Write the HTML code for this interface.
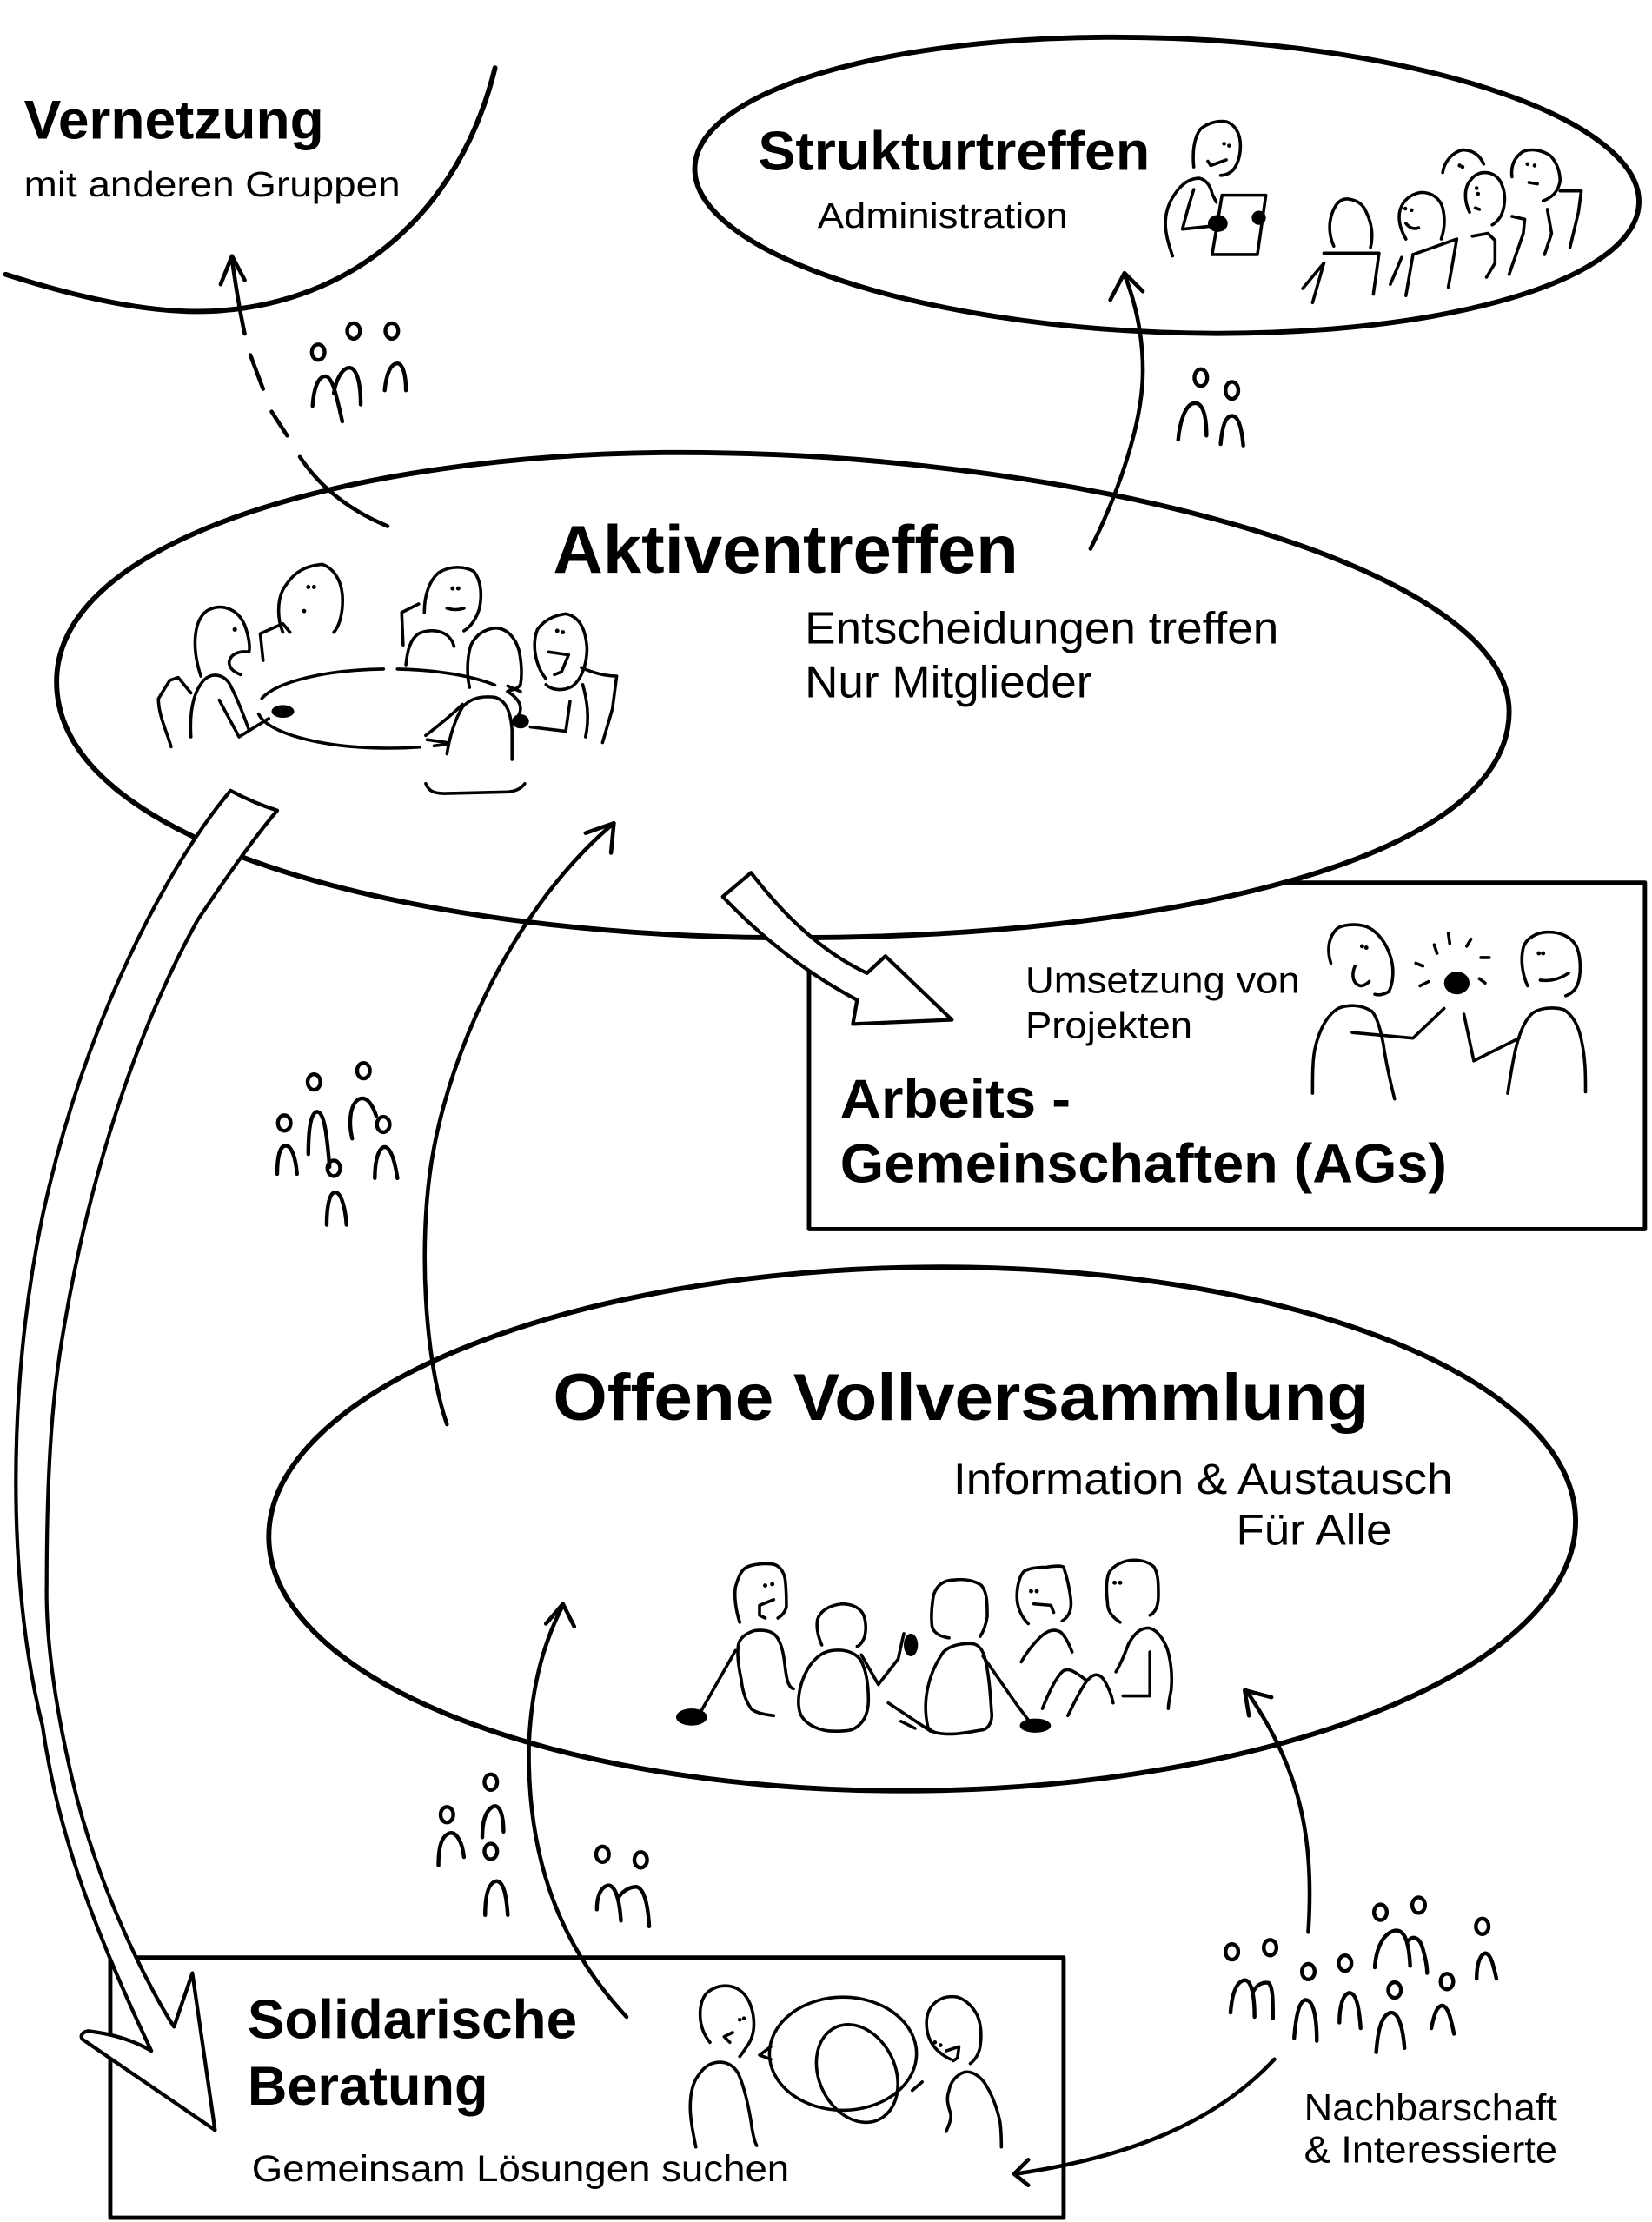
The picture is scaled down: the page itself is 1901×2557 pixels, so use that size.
<!DOCTYPE html>
<html><head><meta charset="utf-8"><style>html,body{margin:0;padding:0;background:#fff;}svg{display:block;}</style></head>
<body>
<svg width="1901" height="2557" viewBox="0 0 1168 1571" preserveAspectRatio="none" xmlns="http://www.w3.org/2000/svg">
<rect x="0" y="0" width="1168" height="1571" fill="#fff"/>
<g fill="none" stroke="#000" stroke-linecap="round" stroke-linejoin="round">
<!-- Vernetzung curve -->
<path d="M4,194 C60,212 110,222 150,220 C250,215 325,150 350,48" stroke-width="3.6"/>
<!-- Strukturtreffen ellipse -->
<ellipse cx="825" cy="131" rx="334" ry="104" transform="rotate(2.2 825 131)" stroke-width="3.6" fill="#fff"/>
<!-- AGs box -->
<rect x="572" y="624" width="591" height="245" stroke-width="3" fill="#fff"/>
<!-- Aktiventreffen ellipse -->
<path d="M40,482 C40,380 250,322 470,320 C760,318 1067,400 1067,503 C1067,610 820,663 560,663 C300,663 40,600 40,482 Z" stroke-width="3.6" fill="#fff"/>
<!-- Offene ellipse -->
<ellipse cx="652" cy="1081" rx="462" ry="185" transform="rotate(-0.8 652 1081)" stroke-width="3.6" fill="#fff"/>
<!-- Solidarische box -->
<rect x="78" y="1384" width="674" height="184" stroke-width="3" fill="#fff"/>
</g>

<!-- connectors -->
<g fill="none" stroke="#000" stroke-linecap="round" stroke-linejoin="round" stroke-width="2.8">
<path d="M164,183 C167,205 170,222 173,236"/>
<path d="M177,251 L186,275"/>
<path d="M192,291 L203,308"/>
<path d="M212,323 C228,347 250,362 274,372"/>
<path d="M156,201 L164,181 L173,198"/>

<path d="M771,388 C790,350 808,300 808,262 C808,235 802,212 795,194"/>
<path d="M785,212 L795,193 L808,206"/>

<path d="M316,1007 C300,960 296,880 305,822 C318,740 365,640 434,582"/>
<path d="M414,589 L434,582 L432,603"/>

<path d="M443,1426 C400,1380 372,1320 374,1232 C376,1190 385,1160 398,1135"/>
<path d="M386,1148 L398,1134 L406,1150"/>

<path d="M925,1366 C930,1290 915,1245 881,1195"/>
<path d="M883,1213 L880,1195 L899,1200"/>

<path d="M901,1456 C860,1500 800,1525 718,1537"/>
<path d="M727,1527 L717,1537 L727,1545"/>
</g>

<!-- hollow arrows -->
<g fill="#fff" stroke="#000" stroke-linecap="round" stroke-linejoin="round" stroke-width="2.6">
<path d="M163,559 C120,610 60,720 30,860 C5,980 5,1120 30,1220 C40,1290 62,1355 107,1450 C95,1443 80,1438 62,1436 C57,1437 56,1441 60,1443 L152,1506 L136,1395 L123,1433 C105,1405 72,1340 54,1270 C44,1230 32,1170 33,1120 C33,1030 38,980 45,940 C60,850 90,740 140,650 C155,628 175,598 196,573 Q180,568 163,559 Z"/>
<path d="M531,617 Q570,668 613,688 L626,676 L673,721 L603,724 L606,707 Q555,680 511,634 Z"/>
</g>

<!-- figures -->
<g fill="none" stroke="#000" stroke-linecap="round" stroke-linejoin="round" stroke-width="2.2">
<!-- Aktiventreffen people -->
<path d="M142,478 C136,460 136,440 146,432 C156,426 168,430 173,442 C176,450 177,458 176,461 C170,460 163,462 162,468 C162,474 168,476 170,477"/>
<path d="M135,521 C134,505 136,490 144,481 C150,475 158,477 162,483 C167,492 172,505 176,516"/>
<path d="M121,528 C117,515 112,505 112,494 L120,481 L126,479 L135,490"/>
<path d="M155,495 L169,521 L190,508"/>
<path d="M200,447 C196,438 196,425 200,417 C207,405 215,400 228,399 C236,402 241,410 242,420 C243,432 240,443 236,447"/>
<path d="M186,467 L184,448 L200,441 L205,447"/>
<path d="M300,433 C300,420 304,410 310,405 C318,400 328,400 335,404 C340,410 341,420 339,430 C337,437 333,443 328,446"/>
<path d="M316,430 Q322,432 328,430"/>
<path d="M285,456 L284,433 L296,427"/>
<path d="M287,470 C288,460 290,452 296,448 C304,444 318,445 321,457"/>
<ellipse cx="275" cy="501" rx="93" ry="28" stroke-dasharray="70 10 120 12 90 10"/>
<path d="M316,533 C318,520 322,508 327,500 C333,493 342,492 350,493 C357,495 361,502 362,516 L362,537" fill="#fff"/>
<path d="M332,486 C330,478 330,465 333,456 C337,448 343,445 350,444 C358,444 364,450 367,460 C369,470 369,478 368,484 C366,487 363,488 360,488"/>
<path d="M301,520 C310,513 320,505 327,498"/>
<path d="M302,523 L316,525"/>
<path d="M301,554 C303,559 306,561 315,561 L356,560 C365,560 369,557 371,554"/>
<path d="M359,485 L368,489"/>
<path d="M386,480 C378,470 376,455 380,445 C385,438 392,435 400,434 C410,436 414,445 415,458 C415,470 411,480 405,485 C398,489 390,488 386,484"/>
<path d="M388,461 L402,463 L397,475 L392,477"/>
<path d="M411,472 C420,476 428,478 436,478 L433,501 L426,525"/>
<path d="M412,484 C415,495 417,507 414,521"/>
<path d="M403,496 L400,517 L375,514"/>

<!-- Strukturtreffen people -->
<path d="M844,118 C843,108 844,97 849,91 C854,87 861,85 867,86 C873,88 877,94 877,103 C877,110 875,116 872,120 C869,123 866,124 863,124"/>
<path d="M854,114 L856,117 L867,113"/>
<path d="M829,181 C826,172 824,165 824,158 C824,148 828,140 833,134 C838,128 843,126 848,126 C853,127 856,132 857,137 L860,143"/>
<path d="M844,134 L840,147 L836,162 L855,160"/>
<path d="M864,138 L895,138 L889,180 L857,180 Z" fill="#fff"/>
<path d="M943,174 C939,165 939,155 944,146 C947,141 951,140 955,141 C960,142 964,145 966,150 C970,158 971,167 969,175"/>
<path d="M936,179 L975,179 L971,208"/>
<path d="M936,186 L928,214"/>
<path d="M921,204 L936,186"/>
<path d="M994,169 C990,162 988,155 990,148 C992,142 997,137 1005,136 C1012,136 1018,140 1020,147 C1022,155 1021,163 1019,169"/>
<path d="M994,158 Q998,163 1003,161"/>
<path d="M991,182 L983,201"/>
<path d="M999,180 L1030,169 L1024,203"/>
<path d="M999,180 L994,209"/>
<path d="M1039,150 C1035,142 1035,132 1040,127 C1043,123 1047,122 1050,122 C1055,122 1060,125 1062,131 C1065,138 1064,147 1061,153 C1059,156 1057,158 1055,159"/>
<path d="M1043,147 L1046,148"/>
<path d="M1041,167 L1052,165 L1057,170 L1057,186 L1051,196"/>
<path d="M1020,122 C1021,115 1026,108 1034,106 C1041,106 1046,109 1049,116"/>
<path d="M1069,125 C1068,117 1071,111 1077,107 C1083,105 1090,106 1096,110 C1101,115 1103,122 1103,128 C1102,134 1099,139 1091,142"/>
<path d="M1081,129 L1087,130"/>
<path d="M1069,153 L1078,155 L1077,165 L1067,194"/>
<path d="M1103,135 L1118,135 L1116,150 L1110,175"/>
<path d="M1094,148 L1097,165 L1092,180"/>

<!-- AGs people -->
<path d="M941,681 C938,672 939,662 946,656 C952,653 962,653 968,656 C975,660 980,667 983,676 C986,685 985,695 982,701 C979,703 975,704 972,703"/>
<path d="M958,683 C955,690 957,696 962,697 C965,697 967,695 968,694"/>
<path d="M928,773 C928,760 928,748 930,740 C933,728 938,718 946,713 C953,710 962,710 970,715 C974,720 976,728 978,738 C980,752 983,765 986,777"/>
<path d="M956,730 L999,734 L1021,713"/>
<path d="M1001,681 L1006,683 M1004,697 L1010,694 M1014,668 L1016,674 M1024,660 L1025,667 M1040,664 L1037,669 M1047,677 L1053,677 M1046,692 L1050,695"/>
<path d="M1080,697 C1076,688 1075,678 1077,670 C1079,663 1087,659 1095,659 C1104,659 1112,663 1115,670 C1118,678 1118,690 1115,697 C1113,701 1110,703 1107,704"/>
<path d="M1089,693 C1096,694 1103,692 1109,688"/>
<path d="M1066,773 C1068,760 1070,748 1072,740 C1075,728 1079,720 1084,716 C1090,712 1100,712 1106,714 C1112,718 1116,725 1118,735 C1121,748 1121,760 1121,772"/>
<path d="M1035,717 L1042,750 L1074,734"/>

<!-- Offene people -->
<path d="M523,1147 C520,1138 519,1128 520,1122 C522,1115 524,1110 528,1108 C532,1106 540,1105 547,1106 C551,1107 554,1111 555,1116 C556,1123 556,1131 556,1136 C555,1140 553,1142 550,1144"/>
<path d="M547,1131 L537,1135 L537,1142 L541,1144"/>
<path d="M547,1213 C540,1212 534,1211 531,1208 C527,1202 525,1196 524,1187 C522,1178 521,1170 522,1163 C523,1158 527,1155 533,1153 C539,1152 545,1153 548,1156 C552,1160 554,1168 555,1178 C556,1186 557,1193 561,1194"/>
<path d="M520,1167 L495,1211"/>
<path d="M581,1163 C578,1156 577,1150 578,1145 C580,1139 586,1135 595,1134 C603,1134 609,1137 611,1143 C613,1150 612,1157 610,1160 C609,1162 607,1164 606,1164"/>
<path d="M590,1224 C580,1224 570,1220 566,1212 C563,1204 565,1193 569,1184 C573,1175 580,1168 588,1167 C595,1166 603,1167 608,1173 C612,1179 614,1190 614,1202 C614,1212 610,1220 602,1223 C598,1224 594,1224 590,1224 Z"/>
<path d="M609,1170 L621,1191 L635,1173 L639,1155"/>
<path d="M628,1204 L658,1224 M637,1217 L647,1222"/>
<path d="M671,1158 C664,1157 660,1154 659,1150 C658,1142 659,1134 660,1128 C662,1121 667,1117 675,1117 C683,1116 690,1118 694,1121 C698,1126 698,1134 698,1143 C697,1149 695,1154 693,1157"/>
<path d="M672,1226 C664,1226 658,1225 656,1221 C654,1212 654,1202 656,1193 C658,1184 662,1175 667,1168 C671,1164 678,1162 686,1162 C691,1162 694,1165 696,1171 C699,1182 700,1195 701,1210 C702,1217 699,1222 695,1223 C688,1224 680,1226 672,1226 Z"/>
<path d="M695,1171 L718,1204 L730,1220"/>
<path d="M727,1148 C722,1143 719,1136 719,1129 C719,1121 721,1114 724,1111 C727,1109 732,1108 740,1108 C746,1107 751,1107 752,1108 C754,1114 756,1122 757,1130 C758,1138 756,1143 751,1146"/>
<path d="M731,1134 L743,1135 L745,1140"/>
<path d="M722,1175 C726,1168 730,1163 735,1158 C740,1153 745,1151 750,1154 C754,1158 756,1163 758,1168"/>
<path d="M737,1208 C741,1198 745,1189 750,1183 C754,1178 759,1181 768,1188"/>
<path d="M755,1213 C759,1205 763,1196 768,1189 C772,1184 776,1182 780,1187 C784,1193 786,1199 787,1204"/>
<path d="M792,1147 C786,1143 783,1139 783,1133 C782,1124 782,1117 784,1112 C787,1107 794,1103 802,1103 C808,1103 813,1105 816,1108 C819,1113 819,1120 819,1128 C819,1135 817,1140 813,1142"/>
<path d="M789,1182 C792,1177 795,1170 798,1162 C802,1155 806,1151 812,1151 C818,1152 822,1158 825,1165 C828,1174 829,1185 828,1195 C827,1200 826,1205 826,1208"/>
<path d="M813,1168 L813,1199 L794,1199"/>

<!-- Solidarische people -->
<path d="M502,1444 C497,1438 495,1431 495,1424 C495,1417 497,1411 501,1408 C505,1405 509,1404 513,1404 C519,1404 524,1407 527,1411 C531,1416 533,1424 533,1431 C533,1438 531,1443 528,1447 C526,1450 524,1453 523,1454"/>
<path d="M518,1437 L512,1440 L516,1444"/>
<path d="M492,1518 C490,1508 488,1498 488,1490 C488,1480 490,1472 494,1467 C498,1461 503,1458 509,1458 C515,1458 519,1461 522,1466 C526,1475 529,1488 531,1500 C532,1508 533,1513 535,1517"/>
<ellipse cx="596" cy="1452" rx="52" ry="40"/>
<ellipse cx="606" cy="1466" rx="27" ry="36" transform="rotate(-25 606 1466)"/>
<path d="M545,1456 L537,1453 L545,1447"/>
<path d="M645,1478 L652,1472"/>
<path d="M672,1456 C664,1452 658,1446 656,1438 C654,1430 655,1422 660,1417 C665,1412 671,1411 677,1412 C683,1414 688,1419 691,1425 C694,1432 694,1440 693,1447 C692,1452 690,1456 686,1459"/>
<path d="M669,1450 L678,1447 L677,1455 L674,1457"/>
<path d="M669,1507 C671,1502 673,1498 672,1494 C670,1488 669,1483 671,1478 C672,1472 676,1467 682,1465 C688,1464 694,1469 697,1474 C702,1482 705,1491 707,1500 C708,1507 708,1513 708,1518"/>
</g>

<!-- filled blobs / eyes -->
<g fill="#000" stroke="none">
<ellipse cx="200" cy="503" rx="8" ry="4.5"/>
<ellipse cx="368" cy="510" rx="6" ry="5"/>
<circle cx="166" cy="445" r="1.6"/>
<circle cx="218" cy="415" r="1.5"/><circle cx="222" cy="415" r="1.5"/><circle cx="215" cy="432" r="1.5"/>
<circle cx="320" cy="416" r="1.5"/><circle cx="324" cy="416" r="1.5"/>
<circle cx="394" cy="446" r="1.5"/><circle cx="398" cy="447" r="1.5"/>
<circle cx="865.5" cy="101.6" r="1.4"/><circle cx="869" cy="103" r="1.4"/>
<ellipse cx="861" cy="158" rx="7" ry="6"/><ellipse cx="890" cy="154" rx="5" ry="5"/>
<circle cx="993.6" cy="147.5" r="1.4"/><circle cx="998" cy="148.6" r="1.4"/>
<circle cx="1044" cy="133" r="1.4"/><circle cx="1045" cy="137" r="1.4"/>
<circle cx="1032" cy="117" r="1.4"/><circle cx="1034" cy="118" r="1.4"/>
<circle cx="1080" cy="116" r="1.4"/><circle cx="1085" cy="117" r="1.4"/>
<circle cx="963" cy="669" r="1.5"/><circle cx="966" cy="670" r="1.5"/>
<ellipse cx="1030" cy="695" rx="9" ry="8"/>
<circle cx="1088" cy="674" r="1.5"/><circle cx="1091" cy="674" r="1.5"/>
<circle cx="541" cy="1121" r="1.5"/><circle cx="546" cy="1120" r="1.5"/>
<ellipse cx="489" cy="1214" rx="11" ry="6"/>
<ellipse cx="644" cy="1163" rx="5" ry="8"/>
<ellipse cx="732" cy="1220" rx="11" ry="5"/>
<circle cx="729" cy="1125" r="1.5"/><circle cx="733" cy="1125" r="1.5"/>
<circle cx="788" cy="1119" r="1.5"/><circle cx="792" cy="1119" r="1.5"/>
<circle cx="523" cy="1428" r="1.4"/><circle cx="526" cy="1427" r="1.4"/>
<circle cx="661" cy="1444" r="1.4"/><circle cx="665" cy="1446" r="1.4"/>
</g>

<!-- small people icons -->
<g fill="none" stroke="#000" stroke-linecap="round" stroke-linejoin="round" stroke-width="2.7">
<ellipse cx="225" cy="249" rx="4.5" ry="5.5"/><ellipse cx="250" cy="234" rx="4.5" ry="5.5"/><ellipse cx="277" cy="234" rx="4.5" ry="5.5"/>
<path d="M221,287 C222,272 226,266 230,266 C235,266 238,280 242,298 M236,278 C238,266 243,260 247,260 C252,260 255,270 255,286 M272,276 C273,265 276,257 281,257 C285,257 287,266 287,276"/>

<ellipse cx="849" cy="267" rx="4.5" ry="6"/><ellipse cx="871" cy="276" rx="4.5" ry="6"/>
<path d="M833,311 C834,299 838,285 845,285 C851,285 853,296 853,308 M863,314 C864,303 866,294 871,294 C876,294 878,304 879,315"/>

<ellipse cx="222" cy="765" rx="4.5" ry="5.5"/><ellipse cx="257" cy="757" rx="4.5" ry="5.5"/><ellipse cx="201" cy="794" rx="4.5" ry="5.5"/><ellipse cx="271" cy="795" rx="4.5" ry="5.5"/><ellipse cx="236" cy="826" rx="4.5" ry="5.5"/>
<path d="M218,816 C218,797 220,787 224,786 C229,786 231,800 233,825 M249,805 C246,792 248,780 254,777 C259,775 263,780 266,789 M196,830 C196,818 198,810 202,810 C206,810 209,818 210,830 M265,833 C265,820 268,811 272,811 C276,811 279,820 281,833 M231,866 C231,853 233,843 237,843 C241,843 244,853 245,866"/>

<ellipse cx="316" cy="1283" rx="4.5" ry="5.5"/><ellipse cx="347" cy="1260" rx="4.5" ry="5.5"/><ellipse cx="347" cy="1309" rx="4.5" ry="5.5"/>
<path d="M310,1319 C310,1306 312,1298 318,1296 C323,1295 327,1303 328,1313 M341,1299 C341,1288 343,1280 349,1277 C354,1276 356,1285 356,1295 M343,1354 C343,1341 345,1331 351,1330 C356,1330 358,1340 359,1354"/>
<ellipse cx="426" cy="1311" rx="4.5" ry="5.5"/><ellipse cx="453" cy="1315" rx="4.5" ry="5.5"/>
<path d="M422,1350 C422,1340 425,1334 430,1333 C435,1333 438,1343 439,1358 M437,1342 C440,1337 445,1334 450,1334 C455,1335 458,1345 459,1362"/>

<ellipse cx="871" cy="1380" rx="4.5" ry="5.5"/><ellipse cx="898" cy="1377" rx="4.5" ry="5.5"/><ellipse cx="925" cy="1394" rx="4.5" ry="5.5"/><ellipse cx="951" cy="1388" rx="4.5" ry="5.5"/><ellipse cx="976" cy="1352" rx="4.5" ry="5.5"/><ellipse cx="1003" cy="1347" rx="4.5" ry="5.5"/><ellipse cx="986" cy="1407" rx="4.5" ry="5.5"/><ellipse cx="1023" cy="1401" rx="4.5" ry="5.5"/><ellipse cx="1048" cy="1362" rx="4.5" ry="5.5"/>
<path d="M870,1423 C871,1410 874,1401 880,1400 C885,1400 887,1412 887,1426 M886,1408 C889,1403 893,1401 897,1402 C900,1405 900,1415 900,1427 M915,1441 C916,1428 918,1415 923,1414 C929,1414 931,1428 931,1443 M947,1430 C947,1420 949,1410 954,1409 C959,1409 961,1420 962,1434 M972,1391 C973,1377 978,1367 986,1365 C992,1364 996,1370 997,1390 M996,1372 C999,1368 1004,1370 1006,1378 C1008,1385 1009,1390 1009,1395 M973,1451 C974,1438 976,1425 983,1423 C989,1422 992,1435 993,1448 M1012,1434 C1014,1424 1016,1418 1020,1418 C1024,1419 1026,1428 1028,1438 M1044,1399 C1044,1390 1046,1382 1050,1381 C1054,1381 1056,1390 1058,1399"/>
</g>

<!-- text -->
<g fill="#000" font-family="'Liberation Sans', Arial, sans-serif">
<text x="17" y="98" font-size="39" font-weight="bold" textLength="212" lengthAdjust="spacingAndGlyphs">Vernetzung</text>
<text x="17" y="139" font-size="25" textLength="266" lengthAdjust="spacingAndGlyphs">mit anderen Gruppen</text>
<text x="536" y="120" font-size="39" font-weight="bold" textLength="277" lengthAdjust="spacingAndGlyphs">Strukturtreffen</text>
<text x="578" y="161" font-size="25" textLength="177" lengthAdjust="spacingAndGlyphs">Administration</text>
<text x="391" y="405" font-size="48" font-weight="bold" textLength="329" lengthAdjust="spacingAndGlyphs">Aktiventreffen</text>
<text x="569" y="455" font-size="32" textLength="335" lengthAdjust="spacingAndGlyphs">Entscheidungen treffen</text>
<text x="569" y="493" font-size="32" textLength="203" lengthAdjust="spacingAndGlyphs">Nur Mitglieder</text>
<text x="725" y="702" font-size="26" textLength="194" lengthAdjust="spacingAndGlyphs">Umsetzung von</text>
<text x="725" y="734" font-size="26" textLength="118" lengthAdjust="spacingAndGlyphs">Projekten</text>
<text x="594" y="790" font-size="39" font-weight="bold" textLength="163" lengthAdjust="spacingAndGlyphs">Arbeits -</text>
<text x="594" y="836" font-size="39" font-weight="bold" textLength="429" lengthAdjust="spacingAndGlyphs">Gemeinschaften (AGs)</text>
<text x="391" y="1004" font-size="47" font-weight="bold" textLength="577" lengthAdjust="spacingAndGlyphs">Offene Vollversammlung</text>
<text x="674" y="1056" font-size="31" textLength="353" lengthAdjust="spacingAndGlyphs">Information &amp; Austausch</text>
<text x="874" y="1092" font-size="31" textLength="110" lengthAdjust="spacingAndGlyphs">Für Alle</text>
<text x="175" y="1441" font-size="39" font-weight="bold" textLength="233" lengthAdjust="spacingAndGlyphs">Solidarische</text>
<text x="175" y="1488" font-size="39" font-weight="bold" textLength="170" lengthAdjust="spacingAndGlyphs">Beratung</text>
<text x="178" y="1542" font-size="26" textLength="380" lengthAdjust="spacingAndGlyphs">Gemeinsam Lösungen suchen</text>
<text x="922" y="1499" font-size="27" textLength="179" lengthAdjust="spacingAndGlyphs">Nachbarschaft</text>
<text x="922" y="1529" font-size="27" textLength="179" lengthAdjust="spacingAndGlyphs">&amp; Interessierte</text>
</g>
</svg>
</body></html>
